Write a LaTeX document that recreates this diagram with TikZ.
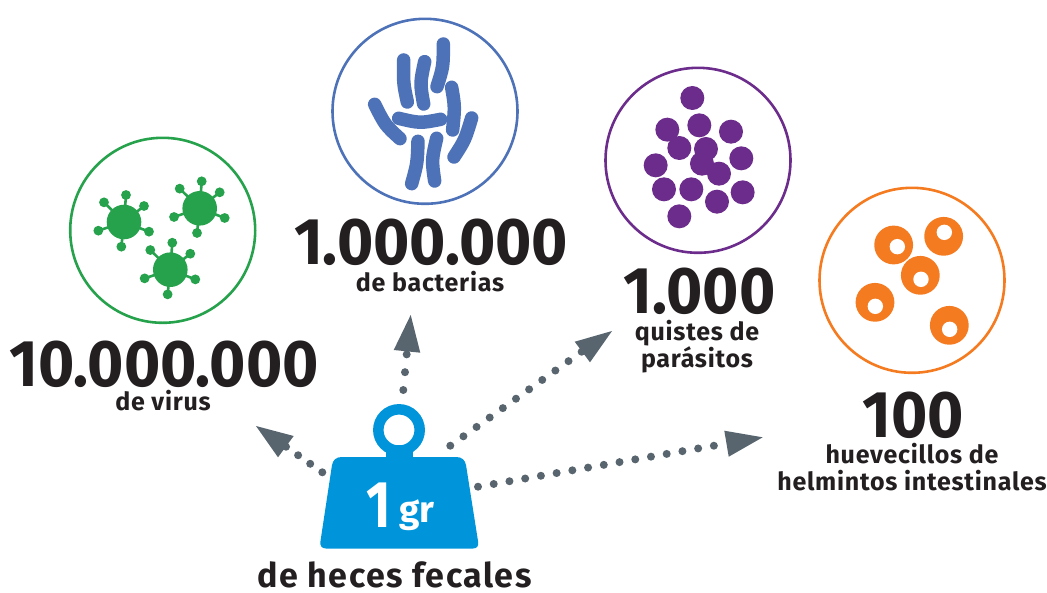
\documentclass[tikz,border=0pt]{standalone}
\usepackage{graphicx}
\usepackage{fontspec}
\setmainfont{Fira Sans}[BoldFont={* Bold}]
\definecolor{cgreen}{HTML}{27A24C}
\definecolor{cblue}{HTML}{4E72B8}
\definecolor{cpurple}{HTML}{6C2C8C}
\definecolor{corange}{HTML}{F57B20}
\definecolor{cweight}{HTML}{0095DA}
\definecolor{cgray}{HTML}{58656F}
\definecolor{cink}{HTML}{231F20}
\newcommand{\narrownum}[1]{\scalebox{0.94}[1]{#1}}
\newcommand{\virusat}[2]{%
 \begin{scope}[shift={(#1,#2)},x=0.3333pt,y=-0.3333pt]
  \fill[cgreen] (0,0) circle[radius=17.3pt];
  \foreach \dx/\dy in {6/-81,-60/-59,60/-48,75/29,-8/74,-77/26}{
   \draw[cgreen,line width=2.6pt] (0,0) -- (\dx,\dy);
   \fill[cgreen] (\dx,\dy) circle[radius=4.9pt];
  }
 \end{scope}}
\tikzset{
 ring/.style={circle,draw,line width=2.6pt,minimum size=185pt,inner sep=0pt,fill=white},
 big/.style={text=cink,inner sep=0pt,anchor=base,font=\fontsize{66}{66}\selectfont\bfseries},
 small/.style={text=cink,inner sep=0pt,anchor=base,font=\fontsize{25}{25}\selectfont\bfseries\addfontfeature{LetterSpace=3}},
 dotline/.style={cgray,line width=8pt,line cap=round},
 head/.style={fill=cgray,draw=none},
 rod/.style={cblue,line width=13.5pt,line cap=round},
}
\begin{document}
\begin{tikzpicture}[x=1pt,y=-1pt]
\useasboundingbox (0,0) rectangle (1047,592);
% circles
\node[ring,draw=cgreen] (virus) at (162.7,230.3) {};
\node[ring,draw=cblue] (bact) at (425,111.3) {};
\node[ring,draw=cpurple] (quist) at (698,160.3) {};
\node[ring,draw=corange] (helm) at (912,280.3) {};
% virus
\virusat{124}{222}
\virusat{199.7}{208.3}
\virusat{170.3}{269.7}
% bacteria
\begin{scope}[shift={(330,0)},x=0.3333pt,y=-0.3333pt]
 \draw[rod] (221,180) .. controls (220,250) .. (232,306);
 \draw[rod] (284,185) .. controls (270,250) .. (281,312);
 \draw[rod] (340,132) .. controls (340,200) .. (321,260);
 \draw[rod] (365,262) .. controls (375,320) .. (368,390);
 \draw[rod] (425,354) .. controls (405,420) .. (372,471);
 \draw[rod] (134,313) .. controls (165,375) .. (210,416);
 \draw[rod] (206,355) .. controls (270,370) .. (332,358);
 \draw[rod] (264,424) .. controls (262,490) .. (245,551);
 \draw[rod] (320,415) .. controls (305,480) .. (314,543);
\end{scope}
% cysts
\begin{scope}[shift={(600,65)},x=0.3333pt,y=-0.3333pt]
 \foreach \px/\py in {277/99,202/194,298/181,393/200,238/249,318/252,424/280,167/301,306/296,357/326,192/373,274/373,351/410,428/382,238/454}
  \fill[cpurple] (\px,\py) circle[radius=12pt];
\end{scope}
% eggs
\begin{scope}[shift={(815,185)},x=0.3333pt,y=-0.3333pt]
 \foreach \px/\py/\hx/\hy in {236/180/247/185,386/154/388/142,316/271/318/283,180/352/181/364,403/421/404/433}{
  \fill[corange] (\px,\py) circle[radius=19.4pt];
  \fill[white] (\hx,\hy) circle[radius=7.7pt];
 }
\end{scope}
% weight
\fill[cweight] (386,445) rectangle (413,460);
\draw[cweight,line width=10.5pt] (399,430) circle[radius=20.7pt];
\fill[cweight] (342,457) -- (456,457) .. controls (462,457) and (465,460) .. (466,465)
  -- (478,541) .. controls (479,546) and (477,548.5) .. (473,548.5)
  -- (326,548.5) .. controls (322,548.5) and (319.5,546) .. (320.5,541)
  -- (332,465) .. controls (333,460) and (336,457) .. (342,457) -- cycle;
\node[inner sep=0pt,anchor=base,text=white,font=\fontsize{66}{66}\selectfont\bfseries] (one) at (378.5,527) {\scalebox{0.8}[1]{1}};
\node[inner sep=0pt,anchor=base,text=white,font=\fontsize{37}{37}\selectfont\bfseries] (gr) at (417,522) {gr};
\node[small,font=\fontsize{34}{34}\selectfont\bfseries\addfontfeature{LetterSpace=4.5}] (heces) at (394.5,587) {de heces fecales};
% labels
\node[big] (n1) at (164,386) {\narrownum{10.000.000}};
\node[small] (t1) at (163,410) {de virus};
\node[big] (n2) at (431,264) {\narrownum{1.000.000}};
\node[small] (t2) at (430,291) {de bacterias};
\node[big] (n3) at (699.5,313) {\narrownum{1.000}};
\node[small] (t3a) at (697,340) {quistes de};
\node[small] (t3b) at (697,367) {parásitos};
\node[big] (n4) at (913,437) {\narrownum{100}};
\node[small] (t4a) at (912,463) {huevecillos de};
\node[small] (t4b) at (912,490) {helmintos intestinales};
% connectors
\coordinate (s1) at (322.3,472.3); \coordinate (e1) at (286,446.7); \coordinate (tip1) at (256,426);
\coordinate (s2) at (403.3,390); \coordinate (e2) at (406.7,354.3); \coordinate (tip2) at (410.7,315);
\coordinate (s3) at (450.3,445.7); \coordinate (e3) at (581.7,351.7); \coordinate (tip3) at (612,331);
\coordinate (s4) at (478,486.7); \coordinate (e4) at (714,445.7); \coordinate (tip4) at (762.7,437.3);
\draw[dotline,dash pattern=on 0pt off 14.8pt] (s1) -- (e1);
\draw[dotline,dash pattern=on 0pt off 17.9pt] (s2) -- (e2);
\draw[dotline,dash pattern=on 0pt off 16.15pt] (s3) -- (e3);
\draw[dotline,dash pattern=on 0pt off 15.96pt] (s4) -- (e4);
\fill[head] (tip1) -- (293.7,436) -- (278,457.3) -- cycle;
\fill[head] (tip2) -- (420.3,352.7) -- (393.7,350) -- cycle;
\fill[head] (tip3) -- (590,362.3) -- (574.7,341.7) -- cycle;
\fill[head] (tip4) -- (728.7,456.7) -- (724.3,430.7) -- cycle;
\end{tikzpicture}
\end{document}
